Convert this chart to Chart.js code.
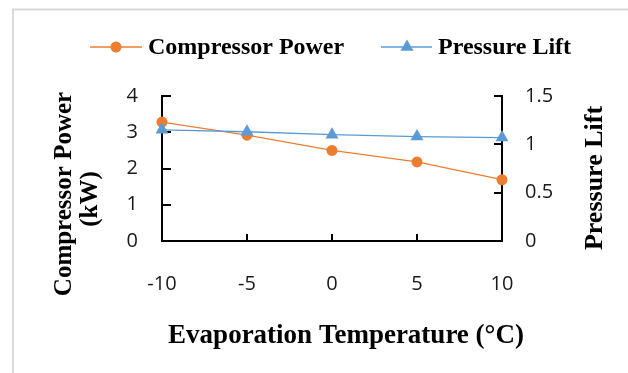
<!DOCTYPE html>
<html><head><meta charset="utf-8">
<script src="https://cdn.jsdelivr.net/npm/chart.js@4"></script>
<style>html,body{margin:0;padding:0;background:#fff}#wrap{width:628px;height:373px;position:relative}</style>
</head><body><div id="wrap"><canvas id="c" width="628" height="373"></canvas></div>
<script>
const temperatures = ['-10', '-5', '0', '5', '10'];
const compressorPower = [3.28, 2.92, 2.50, 2.18, 1.69];
const pressureLift = [1.15, 1.13, 1.10, 1.08, 1.07];
const powerTicks = [0, 1, 2, 3, 4];
const liftTicks = [0, 0.5, 1, 1.5];
const xTitle = 'Evaporation Temperature (°C)';
const yTitle = ['Compressor Power', '(kW)'];
const y2Title = 'Pressure Lift';

const ORANGE = '#ED7D31';
const BLUE = '#5B9BD5';
const SERIF = '"Liberation Serif", "Times New Roman", serif';
const TICKFONT = { family: '"Open Sans", "Noto Sans", sans-serif', size: 20 };
const TICKCOLOR = '#1a1a1a';

const decor = {
  id: 'decor',
  beforeDraw(chart) {
    const ctx = chart.ctx;
    ctx.save();
    ctx.fillStyle = '#fff';
    ctx.fillRect(0, 0, chart.width, chart.height);
    ctx.strokeStyle = '#d9d9d9';
    ctx.lineWidth = 2;
    ctx.beginPath();
    ctx.moveTo(13, chart.height);
    ctx.lineTo(13, 9.5);
    ctx.lineTo(chart.width, 9.5);
    ctx.stroke();
    ctx.restore();
  },
  beforeDatasetsDraw(chart) {
    const { ctx, chartArea: a, scales } = chart;
    ctx.save();
    ctx.strokeStyle = '#000';
    ctx.lineWidth = 2;
    ctx.beginPath();
    powerTicks.forEach(v => { const y = Math.round(scales.y.getPixelForValue(v)); ctx.moveTo(a.left, y); ctx.lineTo(a.left + 9, y); });
    liftTicks.forEach(v => { const y = Math.round(scales.y2.getPixelForValue(v)); ctx.moveTo(a.right, y); ctx.lineTo(a.right - 8, y); });
    temperatures.forEach((t, i) => { const x = Math.round(scales.x.getPixelForValue(i)); ctx.moveTo(x, a.bottom); ctx.lineTo(x, a.bottom - 7); });
    ctx.stroke();
    ctx.restore();
  },
  afterDraw(chart) {
    const ctx = chart.ctx;
    ctx.save();
    ctx.fillStyle = '#000';
    ctx.font = 'bold 27px ' + SERIF;
    ctx.textAlign = 'center';
    ctx.textBaseline = 'alphabetic';
    ctx.fillText(xTitle, 346, 343);
    ctx.font = 'bold 25px ' + SERIF;
    ctx.save(); ctx.translate(71, 194); ctx.rotate(-Math.PI / 2); ctx.fillText(yTitle[0], 0, 0); ctx.restore();
    ctx.save(); ctx.translate(97, 199); ctx.rotate(-Math.PI / 2); ctx.fillText(yTitle[1], 0, 0); ctx.restore();
    ctx.font = 'bold 26px ' + SERIF;
    ctx.save(); ctx.translate(602, 178); ctx.rotate(-Math.PI / 2); ctx.fillText(y2Title, 0, 0); ctx.restore();
    ctx.font = 'bold 24px ' + SERIF;
    ctx.textAlign = 'left';
    const items = [
      { ds: chart.data.datasets[0], x0: 90, x1: 142, mx: 116, tx: 148 },
      { ds: chart.data.datasets[1], x0: 381, x1: 432, mx: 407, tx: 438 }
    ];
    const ly = 47;
    items.forEach(it => {
      ctx.strokeStyle = it.ds.borderColor;
      ctx.lineWidth = 1.5;
      ctx.beginPath(); ctx.moveTo(it.x0, ly); ctx.lineTo(it.x1, ly); ctx.stroke();
      ctx.fillStyle = it.ds.pointBackgroundColor;
      Chart.helpers.drawPoint(ctx, { pointStyle: it.ds.pointStyle, radius: it.ds.pointRadius, rotation: 0, borderWidth: 0 }, it.mx, ly);
      ctx.fillStyle = '#000';
      ctx.fillText(it.ds.label, it.tx, 54);
    });
    ctx.restore();
  }
};

new Chart(document.getElementById('c'), {
  type: 'line',
  data: {
    labels: temperatures,
    datasets: [
      {
        label: 'Compressor Power', data: compressorPower, yAxisID: 'y',
        borderColor: ORANGE, backgroundColor: ORANGE, borderWidth: 1.3,
        pointStyle: 'circle', pointRadius: 5.5, pointBackgroundColor: ORANGE, pointBorderWidth: 0,
        tension: 0, clip: false, order: 2
      },
      {
        label: 'Pressure Lift', data: pressureLift, yAxisID: 'y2',
        borderColor: BLUE, backgroundColor: BLUE, borderWidth: 1.3,
        pointStyle: 'triangle', pointRadius: 7.5, pointBackgroundColor: BLUE, pointBorderWidth: 0,
        tension: 0, clip: false, order: 1
      }
    ]
  },
  options: {
    responsive: false, animation: false, devicePixelRatio: 1,
    layout: { padding: { top: 96, left: 0, right: 0, bottom: 0 } },
    plugins: { legend: { display: false }, tooltip: { enabled: false } },
    scales: {
      x: {
        type: 'category', offset: false,
        grid: { display: false, drawTicks: false },
        border: { display: true, color: '#000', width: 2 },
        ticks: { font: TICKFONT, color: TICKCOLOR, padding: 31, maxRotation: 0, autoSkip: false },
        afterFit: s => { s.height = 132; }
      },
      y: {
        position: 'left', min: 0, max: 4,
        grid: { display: false, drawTicks: false },
        border: { display: true, color: '#000', width: 2 },
        ticks: { stepSize: 1, font: TICKFONT, color: TICKCOLOR, padding: 24 },
        afterFit: s => { s.width = 162; }
      },
      y2: {
        position: 'right', min: 0, max: 1.5,
        grid: { display: false, drawTicks: false },
        border: { display: true, color: '#000', width: 2 },
        ticks: { stepSize: 0.5, font: TICKFONT, color: TICKCOLOR, padding: 23, callback: v => String(v) },
        afterFit: s => { s.width = 126; }
      }
    }
  },
  plugins: [decor]
});
</script></body></html>
